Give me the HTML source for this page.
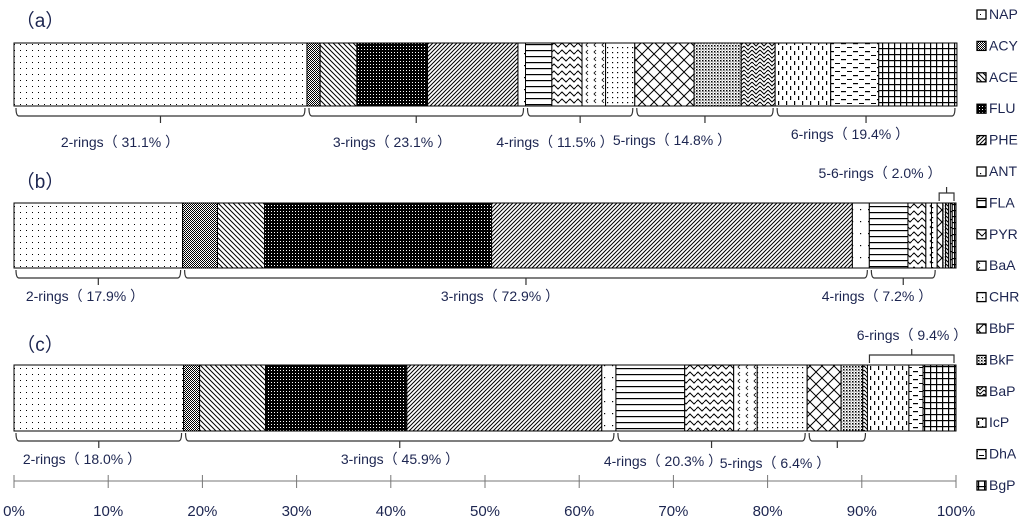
<!DOCTYPE html>
<html><head><meta charset="utf-8">
<style>
html,body{margin:0;padding:0;background:#fff;}
svg{display:block;font-family:"Liberation Sans","Noto Sans CJK SC",sans-serif;}
.t{fill:#1c2550;}
</style></head>
<body>
<svg id="chart" width="1024" height="521" viewBox="0 0 1024 521" xmlns="http://www.w3.org/2000/svg">
<defs>
<pattern id="p0" width="6" height="6" patternUnits="userSpaceOnUse"><rect width="6" height="6" fill="#fff"/><rect x="2" y="2" width="1" height="1" fill="#000"/></pattern>
<pattern id="p1" width="2" height="2" patternUnits="userSpaceOnUse"><rect width="2" height="2" fill="#fff"/><rect width="1" height="1" fill="#000"/><rect x="1" y="1" width="1" height="1" fill="#000"/></pattern>
<pattern id="p2" width="5" height="5" patternUnits="userSpaceOnUse"><rect width="5" height="5" fill="#fff"/><path d="M0,0L5,5M-1,4L1,6M4,-1L6,1" stroke="#000" stroke-width="1"/></pattern>
<pattern id="p3" width="3" height="3" patternUnits="userSpaceOnUse"><rect width="3" height="3" fill="#000"/><rect x="1" y="1" width="1" height="1" fill="#fff"/></pattern>
<pattern id="p4" width="4" height="4" patternUnits="userSpaceOnUse"><rect width="4" height="4" fill="#fff"/><path d="M0,4L4,0M-1,1L1,-1M3,5L5,3" stroke="#000" stroke-width="1"/></pattern>
<pattern id="p5" width="8" height="12" patternUnits="userSpaceOnUse"><rect width="8" height="12" fill="#fff"/><rect x="4" y="5" width="1.2" height="1.2" fill="#000"/></pattern>
<pattern id="p6" width="6" height="6" patternUnits="userSpaceOnUse"><rect width="6" height="6" fill="#fff"/><rect y="2" width="6" height="1.2" fill="#000"/></pattern>
<pattern id="p7" width="8" height="7" patternUnits="userSpaceOnUse"><rect width="8" height="7" fill="#fff"/><path d="M0,3L2,1L4,3L6,5L8,3" fill="none" stroke="#000" stroke-width="1"/></pattern>
<pattern id="p8" width="8" height="7" patternUnits="userSpaceOnUse"><rect width="8" height="7" fill="#fff"/><path d="M4,1L2,3L4,5" fill="none" stroke="#000" stroke-width="0.8"/></pattern>
<pattern id="p9" width="5" height="5" patternUnits="userSpaceOnUse"><rect width="5" height="5" fill="#fff"/><rect x="2" y="2" width="1.2" height="1.2" fill="#000"/></pattern>
<pattern id="p10" width="12" height="12" patternUnits="userSpaceOnUse"><rect width="12" height="12" fill="#fff"/><path d="M0,0L12,12M12,0L0,12" stroke="#000" stroke-width="1"/></pattern>
<pattern id="p11" width="3" height="3" patternUnits="userSpaceOnUse"><rect width="3" height="3" fill="#fff"/><rect width="1.5" height="1.5" fill="#000"/><rect x="1.5" y="1.5" width="1" height="1" fill="#555"/></pattern>
<pattern id="p12" width="8" height="8" patternUnits="userSpaceOnUse"><rect width="8" height="8" fill="#fff"/><path d="M0,2L4,6L8,2M0,6L2,8M6,8L8,6M2,0L4,2L6,0" fill="none" stroke="#000" stroke-width="1"/></pattern>
<pattern id="p13" width="8" height="10" patternUnits="userSpaceOnUse"><rect width="8" height="10" fill="#fff"/><rect x="2" y="1" width="1.2" height="4" fill="#000"/><rect x="6" y="6" width="1.2" height="4" fill="#000"/></pattern>
<pattern id="p14" width="12" height="8" patternUnits="userSpaceOnUse"><rect width="12" height="8" fill="#fff"/><rect x="1" y="3" width="5" height="1.2" fill="#000"/><rect x="7" y="7" width="5" height="1" fill="#000"/></pattern>
<pattern id="p15" width="6" height="6" patternUnits="userSpaceOnUse"><rect width="6" height="6" fill="#fff"/><rect width="6" height="1.2" fill="#000"/><rect width="1.2" height="6" fill="#000"/></pattern>
</defs>
<g id="bars"></g>
<g id="axis"></g>
<g id="legend"></g>
</svg>
<script>
const species = ["NAP","ACY","ACE","FLU","PHE","ANT","FLA","PYR","BaA","CHR","BbF","BkF","BaP","IcP","DhA","BgP"];
const panelNames = ["(a)","(b)","(c)"];
const valuesA = [31.1,1.4,3.9,7.5,9.6,0.8,2.8,3.2,2.5,3.1,6.3,5.0,3.6,5.9,5.1,8.3];
const valuesB = [17.9,3.7,5.0,24.1,38.3,1.8,4.1,1.9,0.6,0.6,0.6,0.3,0.3,0.2,0.2,0.4];
const valuesC = [18.0,1.7,7.0,15.0,20.7,1.5,7.3,5.2,2.5,5.3,3.6,2.3,0.5,4.4,1.5,3.5];
// ring groups: [label, first index, last index, printed percent]
const groupsA = [["2-rings",0,0,"31.1%"],["3-rings",1,5,"23.1%"],["4-rings",6,9,"11.5%"],["5-rings",10,12,"14.8%"],["6-rings",13,15,"19.4%"]];
const groupsB = [["2-rings",0,0,"17.9%"],["3-rings",1,5,"72.9%"],["4-rings",6,9,"7.2%"],["5-6-rings",10,15,"2.0%"]];
const groupsC = [["2-rings",0,0,"18.0%"],["3-rings",1,5,"45.9%"],["4-rings",6,9,"20.3%"],["5-rings",10,12,"6.4%"],["6-rings",13,15,"9.4%"]];
const ticks = [0,10,20,30,40,50,60,70,80,90,100];

const NS="http://www.w3.org/2000/svg";
const X0=14, X1=956;
const xs = v => X0 + (X1-X0)*v/100;
function mk(tag, attrs, parent, text){
  const e=document.createElementNS(NS,tag);
  for(const k in attrs) e.setAttribute(k,attrs[k]);
  if(text!==undefined) e.textContent=text;
  parent.appendChild(e); return e;
}
const barsG=document.getElementById('bars');
const layout=[
  {top:43,h:63,title:[40,27],labels:[[120,147,0],[392,147,0],[555,147,0],[672,145,0],[850,139,0]],above:[]},
  {top:203,h:65,title:[40,188],labels:[[85,301,0],[500,301,0],[877,301,0],[880,178,1]],above:[3]},
  {top:365,h:66,title:[40,351],labels:[[82,464,0],[400,464,0],[663,466,0],[775,468,0],[912,340,1]],above:[4]}
];
const allVals=[valuesA,valuesB,valuesC];
const allGroups=[groupsA,groupsB,groupsC];
allVals.forEach((vals,p)=>{
  const L=layout[p];
  const g=mk('g',{},barsG);
  
  
  const tt=mk('text',{x:L.title[0],y:L.title[1],class:'t',style:'font-size:19px','text-anchor':'middle'},g,'（'+panelNames[p].slice(1,2)+'）');
  
  
  const cum=[0];
  vals.forEach(v=>cum.push(cum[cum.length-1]+v));
  vals.forEach((v,i)=>{
    const r=mk('rect',{x:xs(cum[i]),y:L.top,width:Math.max(0,xs(cum[i+1])-xs(cum[i])),height:L.h,fill:'url(#p'+i+')',stroke:'#000','stroke-width':1},g);
    
    
  });
  allGroups[p].forEach((gr,k)=>{
    const a=xs(cum[gr[1]])+2, b=xs(cum[gr[2]+1])-2, c=(a+b)/2;
    const above=L.above.includes(k);
    let d;
    if(!above){ const y0=L.top+L.h+2, y1=y0+8; d=`M${a},${y0}Q${a},${y1} ${a+3},${y1}L${b-3},${y1}Q${b},${y1} ${b},${y0}M${c},${y1}L${c},${y1+7}`; }
    else { const y0=L.top-2, y1=y0-8; d=`M${a},${y0}L${a},${y1}L${b},${y1}L${b},${y0}M${c},${y1}L${c},${y1-6}`; }
    const br=mk('path',{d:d,fill:'none',stroke:'#333','stroke-width':1.2},g);
    
    
    const lp=L.labels[k];
    const lt=mk('text',{x:lp[0],y:lp[1],class:'t',style:'font-size:14px','text-anchor':'middle'},g,gr[0]+'（ '+gr[3]+' ）');
    
    
  });
});
const ax=document.getElementById('axis');
const al=mk('line',{x1:X0,x2:X1,y1:481,y2:481,stroke:'#777','stroke-width':1},ax);


ticks.forEach(t=>{
  const tl=mk('line',{x1:xs(t),x2:xs(t),y1:475,y2:488,stroke:'#777','stroke-width':1},ax);
  
  
  const tx=mk('text',{x:xs(t),y:516,class:'t',style:'font-size:15px','text-anchor':'middle'},ax,t+'%');
  
  
});
const lg=document.getElementById('legend');
species.forEach((s,i)=>{
  const y=14+i*31.4;
  const e=mk('g',{},lg);
  
  
  mk('rect',{x:977,y:y-4,width:9,height:9,fill:'url(#p'+i+')',stroke:'#000','stroke-width':1.3},e);
  mk('text',{x:989,y:y+5,class:'t',style:'font-size:14px'},e,s);
});
</script>
</body></html>
